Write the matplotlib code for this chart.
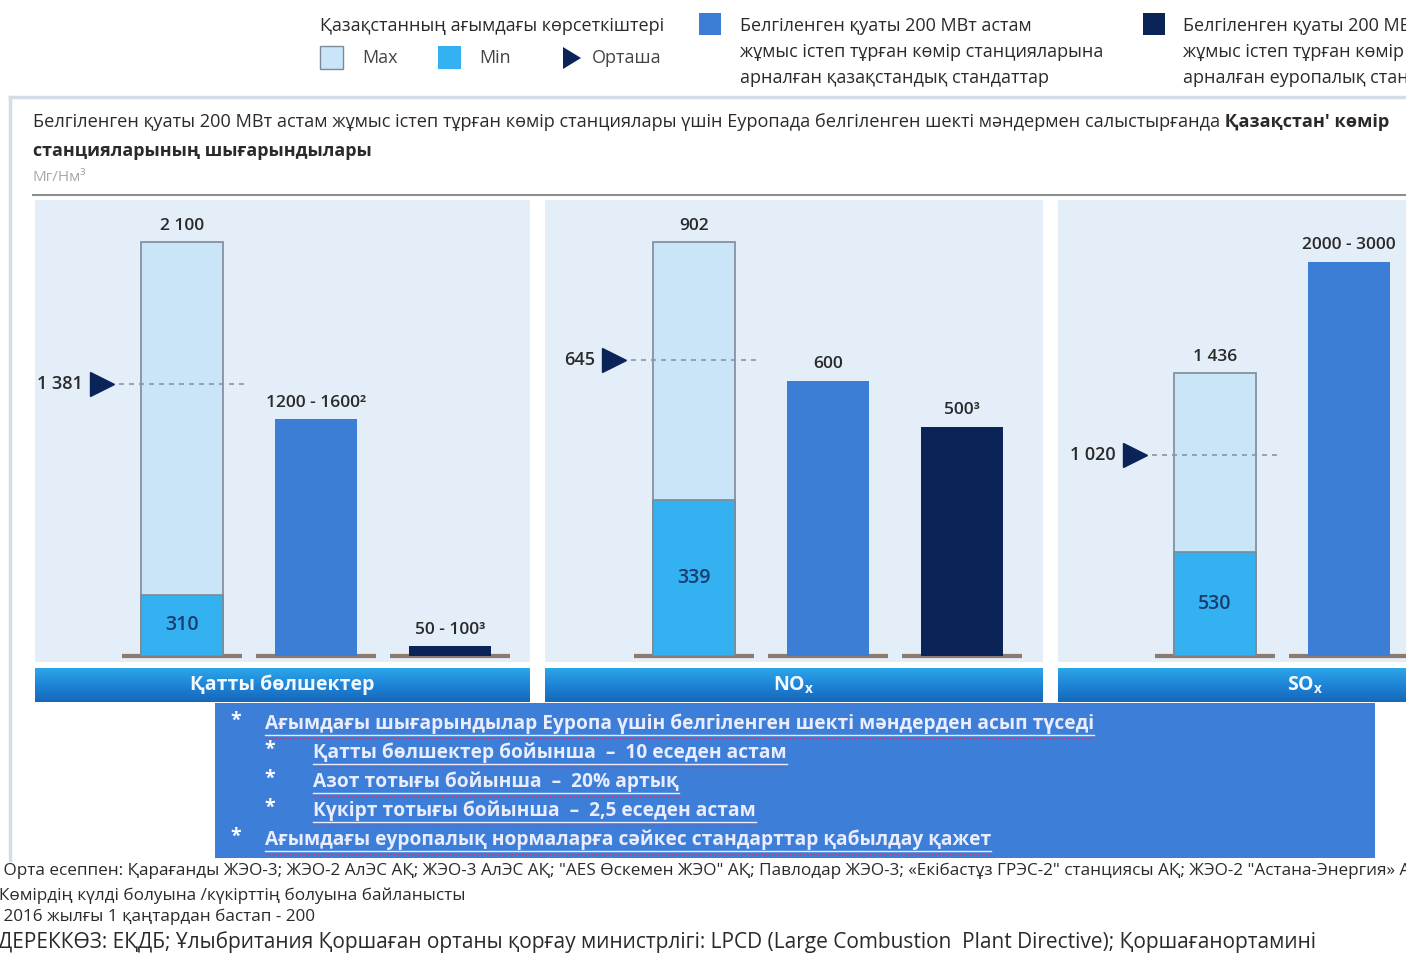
import matplotlib
matplotlib.use('Agg')
import matplotlib.pyplot as plt
from matplotlib.patches import Rectangle, Polygon
import numpy as np

# ─── Data ──────────────────────────────────────────────────────
pollutants  = ['Қатты бөлшектер', 'NO$_\\mathregular{x}$', 'SO$_\\mathregular{x}$']
kz_max      = [2100, 902, 1436]          # Kazakhstan current, max
kz_min      = [310, 339, 530]            # Kazakhstan current, min
kz_mean     = [1381, 645, 1020]          # Kazakhstan current, average
kz_std      = [1200, 600, 2000]          # Kazakh standard (lower bound drawn)
eu_std      = [50, 500, np.nan]          # European standard (SOx bar is off-page)

max_labels  = ['2 100', '902', '1 436']
min_labels  = ['310', '339', '530']
mean_labels = ['1 381', '645', '1 020']
kz_labels   = ['1200 - 1600²', '600', '2000 - 3000']
eu_labels   = ['50 - 100³', '500³', '']

bullets = [
    (0, 'Ағымдағы шығарындылар Еуропа үшін белгіленген шекті мәндерден асып түседі'),
    (1, 'Қатты бөлшектер бойынша  –  10 еседен астам'),
    (1, 'Азот тотығы бойынша  –  20% артық'),
    (1, 'Күкірт тотығы бойынша  –  2,5 еседен астам'),
    (0, 'Ағымдағы еуропалық нормаларға сәйкес стандарттар қабылдау қажет'),
]

footnotes = [
    '¹ Орта есеппен: Қарағанды ЖЭО-3; ЖЭО-2 АлЭС АҚ; ЖЭО-3 АлЭС АҚ; "AES Өскемен ЖЭО" АҚ; '
    'Павлодар ЖЭО-3; «Екібастұз ГРЭС-2" станциясы АҚ; ЖЭО-2 "Астана-Энергия» АҚ',
    '²Көмірдің күлді болуына /күкірттің болуына байланысты',
    '³ 2016 жылғы 1 қаңтардан бастап - 200',
]
source_note = ('ДЕРЕККӨЗ: ЕҚДБ; Ұлыбритания Қоршаған ортаны қорғау министрлігі: '
               'LPCD (Large Combustion  Plant Directive); Қоршағанортамині')

# ─── Palette ───────────────────────────────────────────────────
C_MAX    = '#CAE4F8'
C_MIN    = '#33B1F1'
C_KZ     = '#3C7DD6'
C_EU     = '#0A2457'
C_EDGE   = '#7D8A98'
C_PANEL  = '#E3EEF8'
C_BASE   = '#8A7A70'
C_TEXT   = '#2A2A2A'
C_BOX    = '#3D7ED8'
C_BULLET = '#E9EDFF'

FONT = ['Open Sans', 'DejaVu Sans']
plt.rcParams['font.family'] = FONT
plt.rcParams['mathtext.default'] = 'regular'

# ─── Figure / pixel helpers ────────────────────────────────────
W, H = 1406, 956
fig = plt.figure(figsize=(W / 100, H / 100), dpi=100)
fig.patch.set_facecolor('white')

ov = fig.add_axes([0, 0, 1, 1], zorder=0)
ov.set_xlim(0, W)
ov.set_ylim(H, 0)
ov.axis('off')


def px_axes(x0, y0, x1, y1, z=2):
    return fig.add_axes([x0 / W, 1 - y1 / H, (x1 - x0) / W, (y1 - y0) / H], zorder=z)


# ─── Legend (top) ──────────────────────────────────────────────
LFS = 13
ov.text(320, 26, 'Қазақстанның ағымдағы көрсеткіштері', fontsize=LFS,
        color=C_TEXT, va='center', ha='left')
ov.add_patch(Rectangle((320, 46), 23, 23, fc=C_MAX, ec=C_EDGE, lw=1))
ov.text(362, 58, 'Max', fontsize=LFS, color='#444', va='center')
ov.add_patch(Rectangle((438, 46), 23, 23, fc=C_MIN, ec='none'))
ov.text(479, 58, 'Min', fontsize=LFS, color='#444', va='center')
ov.add_patch(Polygon([[563, 47], [563, 69], [581, 58]], fc=C_EU, ec='none'))
ov.text(592, 58, 'Орташа', fontsize=LFS, color='#444', va='center')

leg_kz = ['Белгіленген қуаты 200 МВт астам',
          'жұмыс істеп тұрған көмір станцияларына',
          'арналған қазақстандық стандаттар']
leg_eu = ['Белгіленген қуаты 200 МВт астам',
          'жұмыс істеп тұрған көмір станцияларына',
          'арналған еуропалық стандарттар']
ov.add_patch(Rectangle((699, 13), 22, 22, fc=C_KZ, ec='none'))
ov.add_patch(Rectangle((1143, 13), 22, 22, fc=C_EU, ec='none'))
for i, (a, b) in enumerate(zip(leg_kz, leg_eu)):
    ov.text(740, 26 + 26 * i, a, fontsize=LFS, color=C_TEXT, va='center')
    ov.text(1183, 26 + 26 * i, b, fontsize=LFS, color=C_TEXT, va='center')

# ─── Frame + title block ───────────────────────────────────────
ov.plot([10, W], [97, 97], color='#D3DDE8', lw=2.5)
ov.plot([10, 10], [97, 860], color='#D3DDE8', lw=2.5)

t1 = ov.text(33, 122, 'Белгіленген қуаты 200 МВт астам жұмыс істеп тұрған көмір станциялары '
             'үшін Еуропада белгіленген шекті мәндермен салыстырғанда', fontsize=13.1,
             color=C_TEXT, va='center')
ov.annotate(' Қазақстан\' көмір', xy=(1, 0.5), xycoords=t1, va='center', ha='left',
            fontsize=13.1, fontweight='bold', color=C_TEXT)
ov.text(33, 151, 'станцияларының шығарындылары', fontsize=13, fontweight='bold',
        color=C_TEXT, va='center')
ov.text(33, 177, 'Мг/Нм³', fontsize=11, color='#A8A8A8', va='center')
ov.plot([33, W], [195, 195], color='#8E8E8E', lw=1.5)

# ─── Panels ────────────────────────────────────────────────────
panels   = [(35, 530), (545, 1043), (1058, 1406)]
first_cx = [182, 694, 1215]          # pixel centre of first bar in each panel
step     = 134                       # pixel distance between bars
scale_ref = [2100, 902, 2100]        # value that reaches 414 px in each panel
top_px, base_px = 200, 656
strip_cmap = matplotlib.colors.LinearSegmentedColormap.from_list(
    'strip', ['#2CA6EA', '#1E84D6', '#1767BA'])

for i, (x0, x1) in enumerate(panels):
    # background + label strip
    ov.add_patch(Rectangle((x0, top_px), x1 - x0, 462, fc=C_PANEL, ec='none'))
    grad = np.linspace(0, 1, 64).reshape(-1, 1)
    ov.imshow(grad, extent=(x0, x1, 702, 668), cmap=strip_cmap, aspect='auto', zorder=1)
    ov.text((x0 + x1) / 2 if i < 2 else 1305, 685, pollutants[i], color='#F4F8FF',
            fontsize=14, fontweight='bold', ha='center', va='center', zorder=3)

    ax = px_axes(x0, top_px, x1, base_px)
    ax.set_facecolor('none')
    ax.axis('off')
    ax.set_xlim(-(first_cx[i] - x0) / step, (x1 - first_cx[i]) / step)
    ax.set_ylim(0, scale_ref[i] * (base_px - top_px) / 414)

    bw = 0.61
    # baselines under each bar slot
    for k in range(3):
        ax.plot([k - 0.45, k + 0.45], [0, 0], color=C_BASE, lw=3, solid_capstyle='butt',
                zorder=1, clip_on=False)

    # Kazakhstan current range
    ax.bar(0, kz_max[i], width=bw, color=C_MAX, edgecolor=C_EDGE, lw=1.2, zorder=2)
    ax.bar(0, kz_min[i], width=bw, color=C_MIN, edgecolor=C_EDGE, lw=1.2, zorder=3)
    ax.annotate(max_labels[i], (0, kz_max[i]), xytext=(0, 6), textcoords='offset points',
                ha='center', va='bottom', fontsize=12.5, fontweight='semibold', color=C_TEXT)
    ax.text(0, kz_min[i] / 2, min_labels[i], ha='center', va='center', fontsize=14,
            fontweight='semibold', color='#1C3B6E', zorder=4)

    # average marker
    ax.plot([-0.47, 0.47], [kz_mean[i]] * 2, ls=(0, (3, 3)), color='#8A96A3', lw=1.2, zorder=4)
    ax.plot(-0.6, kz_mean[i], marker='>', ms=17, color=C_EU, zorder=5, clip_on=False)
    ax.text(-0.74, kz_mean[i], mean_labels[i], ha='right', va='center', fontsize=13,
            fontweight='semibold', color=C_TEXT)

    # standards
    ax.bar(1, kz_std[i], width=bw, color=C_KZ, zorder=2)
    ax.annotate(kz_labels[i], (1, kz_std[i]), xytext=(0, 6), textcoords='offset points',
                ha='center', va='bottom', fontsize=12.5, fontweight='semibold', color=C_TEXT)
    if not np.isnan(eu_std[i]):
        ax.bar(2, eu_std[i], width=bw, color=C_EU, zorder=2)
        ax.annotate(eu_labels[i], (2, eu_std[i]), xytext=(0, 6), textcoords='offset points',
                    ha='center', va='bottom', fontsize=12.5, fontweight='semibold',
                    color=C_TEXT)

ov.set_xlim(0, W)
ov.set_ylim(H, 0)

# ─── Key findings box ──────────────────────────────────────────
ov.add_patch(Rectangle((215, 703), 1160, 155, fc=C_BOX, ec='none', zorder=2))
bullet_texts = []
for j, (lvl, txt) in enumerate(bullets):
    y = 724 + 29 * j
    bx, tx = (236, 265) if lvl == 0 else (270, 313)
    ov.text(bx, y - 3, '*', color='white', fontsize=14, fontweight='bold',
            ha='center', va='center', zorder=3)
    t = ov.text(tx, y, txt, color=C_BULLET, fontsize=13.8, fontweight='bold',
                ha='left', va='center', zorder=3)
    bullet_texts.append((t, y))

# underline each bullet line (as in the source slide)
fig.canvas.draw()
inv = ov.transData.inverted()
for t, y in bullet_texts:
    bb = t.get_window_extent()
    (xa, _), (xb, _) = inv.transform([[bb.x0, bb.y0], [bb.x1, bb.y0]])
    ov.plot([xa, xb], [y + 11, y + 11], color=C_BULLET, lw=1, zorder=3)
    ov.plot([xa, xb], [y + 14, y + 14], color='#D2386A', lw=1, ls=(0, (1, 1.5)), zorder=3)

# ─── Footnotes ─────────────────────────────────────────────────
for j, (txt, y) in enumerate(zip(footnotes, [870, 895, 916])):
    ov.text(-7, y, txt, fontsize=12.3, color=C_TEXT, va='center')
ov.text(-2, 942, source_note, fontsize=15, color=C_TEXT, va='center')

plt.savefig('out.png', dpi=100, facecolor='white')
plt.close(fig)
